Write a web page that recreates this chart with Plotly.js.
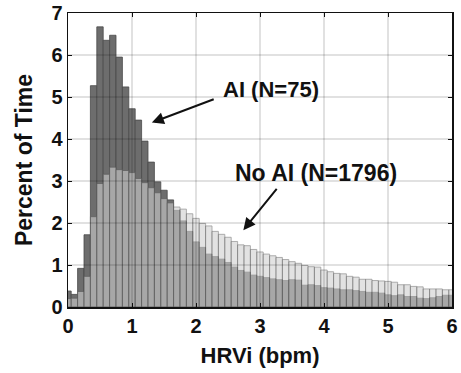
<!DOCTYPE html>
<html>
<head>
<meta charset="utf-8">
<script src="https://cdn.plot.ly/plotly-3.0.1.min.js"></script>
<style>html,body{margin:0;padding:0;background:#fff;}#chart{width:461px;height:373px;}</style>
</head>
<body>
<div id="chart"></div>
<script>
// Bin centres (bpm), bin width 0.1
var binCenters = [0.0,0.1,0.2,0.3,0.4,0.5,0.6,0.7,0.8,0.9,1.0,1.1,1.2,1.3,1.4,1.5,1.6,1.7,1.8,1.9,2.0,2.1,2.2,2.3,2.4,2.5,2.6,2.7,2.8,2.9,3.0,3.1,3.2,3.3,3.4,3.5,3.6,3.7,3.8,3.9,4.0,4.1,4.2,4.3,4.4,4.5,4.6,4.7,4.8,4.9,5.0,5.1,5.2,5.3,5.4,5.5,5.6,5.7,5.8,5.9,6.0];
// Percent of time, AI group (N=75)
var aiPercent = [0.38,0.30,0.92,1.72,5.27,6.67,6.35,6.47,5.95,5.24,4.72,4.45,3.95,3.45,2.98,2.78,2.55,2.30,2.05,1.80,1.55,1.42,1.26,1.20,1.14,1.06,0.95,0.87,0.83,0.76,0.73,0.70,0.67,0.65,0.63,0.65,0.64,0.52,0.53,0.51,0.46,0.45,0.43,0.41,0.41,0.39,0.37,0.35,0.35,0.33,0.29,0.27,0.29,0.25,0.25,0.21,0.20,0.22,0.25,0.28,0.28];
// Percent of time, No AI group (N=1796)
var noAiPercent = [0.20,0.21,0.37,0.73,2.15,2.94,3.16,3.33,3.27,3.25,3.20,3.06,2.96,2.84,2.72,2.58,2.48,2.38,2.33,2.22,2.11,1.99,1.93,1.80,1.73,1.66,1.56,1.48,1.46,1.37,1.31,1.26,1.22,1.18,1.13,1.08,1.04,0.99,0.96,0.95,0.88,0.84,0.80,0.79,0.73,0.71,0.66,0.66,0.63,0.62,0.61,0.59,0.53,0.53,0.49,0.48,0.43,0.43,0.43,0.41,0.41];
var xTicks = [0,1,2,3,4,5,6];
var yTicks = [0,1,2,3,4,5,6,7];
var labelAI = 'AI (N=75)';
var labelNoAI = 'No AI (N=1796)';

var FONT = 'Liberation Sans, Arial, sans-serif';
var GRID = 'rgba(0,0,0,0.24)';

var traces = [
  {type:'bar', x:binCenters, y:aiPercent, width:0.1, name:labelAI,
   marker:{color:'#6d6d6d', line:{color:'#4a4a4a', width:0.8}}},
  {type:'bar', x:binCenters, y:noAiPercent, width:0.1, name:labelNoAI,
   marker:{color:'#cfcfcf', opacity:0.6, line:{color:'#5a5a5a', width:0.8}}}
];

// grid lines drawn above the bars, as in the reference
var shapes = [];
xTicks.slice(1, -1).forEach(function (v) {
  shapes.push({type:'line', layer:'above', xref:'x', yref:'paper', x0:v, x1:v, y0:0, y1:1,
    line:{color:GRID, width:1}});
});
yTicks.slice(1, -1).forEach(function (v) {
  shapes.push({type:'line', layer:'above', xref:'paper', yref:'y', x0:0, x1:1, y0:v, y1:v,
    line:{color:GRID, width:1}});
});

var layout = {
  width:461, height:373,
  margin:{l:68, r:9, t:13, b:66},
  barmode:'overlay', bargap:0,
  showlegend:false,
  paper_bgcolor:'#ffffff', plot_bgcolor:'#ffffff',
  font:{family:FONT, size:20, color:'#111', weight:'bold'},
  shapes:shapes,
  xaxis:{range:[0,6], tickvals:xTicks, ticktext:xTicks.map(String),
    showgrid:false, zeroline:false, layer:'above traces',
    showline:true, linecolor:'#111', linewidth:1.5, mirror:'ticks',
    ticks:'inside', ticklen:4, tickcolor:'#111',
    tickfont:{family:FONT, size:20, weight:'bold', color:'#111'},
    title:{text:'HRVi (bpm)', font:{family:FONT, size:22, weight:'bold', color:'#111'}, standoff:12}},
  yaxis:{range:[0,7], tickvals:yTicks, ticktext:yTicks.map(String),
    showgrid:false, zeroline:false, layer:'above traces',
    showline:true, linecolor:'#111', linewidth:1.5, mirror:'ticks',
    ticks:'inside', ticklen:4, tickcolor:'#111',
    tickfont:{family:FONT, size:20, weight:'bold', color:'#111'},
    title:{text:'Percent of Time', font:{family:FONT, size:23, weight:'bold', color:'#111'}, standoff:12}},
  annotations:[
    {x:3.17, y:5.17, xref:'x', yref:'y', text:labelAI, showarrow:false,
     font:{family:FONT, size:22, weight:'bold', color:'#111'}},
    {x:1.31, y:4.39, ax:2.30, ay:4.96, xref:'x', yref:'y', axref:'x', ayref:'y',
     text:'', showarrow:true, arrowhead:2, arrowsize:1.2, arrowwidth:2, arrowcolor:'#111'},
    {x:3.88, y:3.18, xref:'x', yref:'y', text:labelNoAI, showarrow:false,
     font:{family:FONT, size:23, weight:'bold', color:'#111'}},
    {x:2.74, y:1.83, ax:3.28, ay:2.85, xref:'x', yref:'y', axref:'x', ayref:'y',
     text:'', showarrow:true, arrowhead:2, arrowsize:1.2, arrowwidth:2, arrowcolor:'#111'}
  ]
};

Plotly.newPlot('chart', traces, layout, {displayModeBar:false, staticPlot:true});
</script>
</body>
</html>
